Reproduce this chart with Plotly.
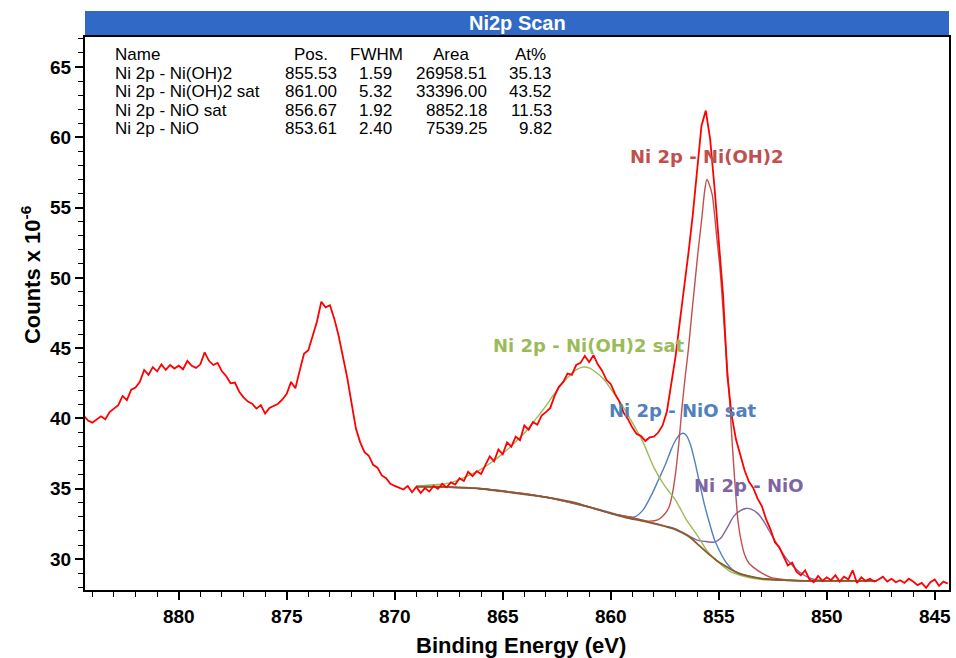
import numpy as np
import plotly.graph_objects as go

# ---- Fit table ----
peak_names = ["Ni 2p - Ni(OH)2", "Ni 2p - Ni(OH)2 sat", "Ni 2p - NiO sat", "Ni 2p - NiO"]
peak_pos = [855.53, 861.00, 856.67, 853.61]
peak_fwhm = [1.59, 5.32, 1.92, 2.40]
peak_area = [26958.51, 33396.00, 8852.18, 7539.25]
peak_at = [35.13, 43.52, 11.53, 9.82]
peak_colors = ["#C0504D", "#9BBB59", "#4F81BD", "#8064A2"]

# ---- Measured spectrum (counts x 1e-6), 0.2 eV steps from 884.4 eV down to 844.4 eV ----
counts = [
    40.2, 39.85, 39.7, 39.95, 40.15, 39.95, 40.45, 40.7, 40.95, 41.6, 41.3, 42.05,
    42.2, 42.6, 43.45, 43.1, 43.65, 43.35, 43.85, 43.45, 43.8, 43.55, 43.75,
    43.5, 44.1, 43.75, 43.6, 43.85, 44.7, 44.1, 43.8, 43.95, 43.35, 43.0, 42.5,
    42.55, 41.9, 41.5, 41.2, 41.05, 40.7, 40.95, 40.35,
    40.75, 40.9, 41.05, 41.35, 41.75, 42.6, 42.15, 43.4, 44.6, 44.85, 45.9, 46.9,
    48.3, 47.9, 48.05, 47.1, 45.9, 44.5, 42.9, 41.1, 39.3, 38.3, 37.6, 37.35,
    36.7, 36.5, 35.95, 35.75, 35.35, 35.2,
    35.1, 34.95, 35.2, 34.75, 35.15, 34.7, 35.05, 34.8, 35.2, 35.0, 35.35, 35.1,
    35.45, 35.3, 35.75, 35.55, 36.2, 35.9, 36.25, 36.05,
    36.7, 37.3, 36.95, 37.8, 37.45, 38.3, 38.0, 38.7, 38.45, 39.5, 39.2, 39.75,
    39.55, 40.2, 40.45, 40.75, 41.6, 42.25, 42.6, 43.2, 43.1, 43.8, 43.95, 44.45, 44.0,
    44.5, 43.85, 43.4, 42.75, 42.45, 41.75, 41.2, 40.4, 39.95, 39.35, 38.9, 38.75,
    38.4, 38.65, 38.7, 39.0, 39.5, 40.5, 42.3, 44.4,
    46.9, 49.2, 51.8, 54.5, 57.5, 60.8, 61.9, 59.9, 56.5, 52.8, 48.8, 43.0,
    40.2, 38.5, 37.3,
    36.3, 35.5, 35.05, 34.3, 33.75, 32.8, 32.1, 31.2, 30.85, 30.2, 29.55, 29.75,
    29.1, 28.85, 29.2, 28.55, 28.35, 28.8, 28.45, 28.7,
    28.5, 28.85, 28.4, 28.75, 28.55, 29.2, 28.3, 28.7, 28.45, 28.6, 28.4, 28.55,
    28.75, 28.4, 28.6, 28.35, 28.5, 28.3, 28.6, 28.4, 28.15, 28.3, 27.95, 28.35,
    28.55, 28.1, 28.4, 28.25,
]
energy = np.round(884.4 - 0.2 * np.arange(len(counts)), 1)

# ---- Fitted envelopes (component + background) ----
bg_e = [869.0, 868.0, 867.0, 866.0, 865.2, 864.0, 863.0, 862.4, 861.5, 860.9, 860.0, 859.3,
        858.5, 857.8, 857.0, 856.6, 856.25, 855.9, 855.5, 855.1, 854.7, 854.3, 854.0,
        853.5, 853.0, 852.0, 851.0, 849.0, 847.7]
bg_i = [35.15, 35.15, 35.1, 35.0, 34.85, 34.6, 34.4, 34.25, 33.95, 33.65, 33.25, 32.95,
        32.7, 32.45, 32.1, 31.8, 31.45, 30.95, 30.4, 29.9, 29.5, 29.15, 28.95,
        28.75, 28.6, 28.5, 28.45, 28.45, 28.45]

sat_e = [869.0, 868.0, 867.5, 867.0, 866.5, 866.0, 865.5, 865.0, 864.5, 864.0, 863.5, 863.0,
         862.5, 862.0, 861.6, 861.3, 861.0, 860.7, 860.3, 860.0, 859.5, 859.0, 858.5, 858.0,
         857.5, 857.0, 856.5, 856.0, 855.5, 855.0, 854.5, 854.0, 853.5, 853.0, 852.0, 850.0, 847.7]
sat_i = [35.2, 35.3, 35.4, 35.65, 36.0, 36.4, 36.9, 37.5, 38.2, 38.95, 39.9, 40.9,
         42.0, 42.9, 43.45, 43.65, 43.6, 43.3, 42.75, 42.1, 41.0, 39.7, 38.3, 36.5,
         35.2, 34.2, 32.8, 31.7, 30.5, 29.75, 29.15, 28.85, 28.65, 28.55, 28.5, 28.45, 28.45]

nio_sat_e = [869.0, 866.0, 863.0, 861.0, 860.0, 859.3, 858.9, 858.5, 858.1, 857.8, 857.45,
             857.2, 857.0, 856.8, 856.65, 856.5, 856.3, 856.1, 855.9, 855.65, 855.4, 855.2,
             855.0, 854.7, 854.4, 854.1, 853.5, 853.0, 851.0, 847.7]
nio_sat_i = [35.15, 35.0, 34.4, 33.7, 33.3, 33.0, 33.0, 33.5, 34.6, 35.6, 36.8,
             37.8, 38.45, 38.85, 38.95, 38.8, 38.1, 36.9, 35.5, 33.8, 32.4, 31.4,
             30.7, 29.85, 29.3, 29.0, 28.75, 28.6, 28.45, 28.45]

hyd_e = [869.0, 866.0, 863.0, 861.0, 860.0, 859.0, 858.3, 857.8, 857.5, 857.3, 857.15,
         857.0, 856.85, 856.7, 856.55, 856.4, 856.25, 856.1, 855.95, 855.8, 855.65, 855.55,
         855.45, 855.3, 855.2, 855.1, 854.95, 854.85, 854.75, 854.65, 854.5, 854.4, 854.25,
         854.1, 853.95, 853.8, 853.6, 853.3, 853.0, 852.6, 852.0, 851.0, 847.7]
hyd_i = [35.15, 35.0, 34.4, 33.7, 33.25, 32.95, 32.7, 32.8, 33.2, 33.7, 34.6,
         36.1, 38.2, 40.8, 43.0, 45.0, 47.4, 49.7, 52.0, 54.0, 56.2, 57.0,
         56.7, 55.9, 54.6, 53.0, 50.8, 48.8, 46.6, 44.5, 41.4, 38.8, 35.4,
         32.6, 31.2, 30.3, 29.7, 29.3, 29.0, 28.7, 28.55, 28.45, 28.45]

nio_e = [869.0, 866.0, 863.0, 861.0, 860.0, 859.0, 858.0, 857.0, 856.5, 856.0, 855.6,
         855.2, 854.9, 854.6, 854.3, 854.0, 853.75, 853.5, 853.2, 852.9, 852.55, 852.2,
         851.9, 851.5, 851.1, 850.7, 850.0, 847.7]
nio_i = [35.15, 35.0, 34.4, 33.7, 33.25, 32.95, 32.55, 32.15, 31.75, 31.35, 31.25,
         31.2, 31.5, 32.25, 33.05, 33.45, 33.6, 33.55, 33.25, 32.65, 31.7, 30.8,
         30.1, 29.4, 28.9, 28.6, 28.45, 28.45]

W, H = 956, 658
L, R, T, B = 85, 5, 37, 68
PW, PH = W - L - R, H - T - B


def px(x):
    return (x - L) / PW


def py(y):
    return (H - B - y) / PH


LAB = "DejaVu Sans"
ARIAL = "Liberation Sans"

fig = go.Figure()

component_curves = [
    (nio_e, nio_i, peak_colors[3]),
    (nio_sat_e, nio_sat_i, peak_colors[2]),
    (hyd_e, hyd_i, peak_colors[0]),
    (sat_e, sat_i, peak_colors[1]),
]
for xs, ys, col in component_curves:
    fig.add_trace(go.Scatter(x=xs, y=ys, mode="lines",
                             line=dict(color=col, width=1.4, shape="spline", smoothing=0.7),
                             hoverinfo="skip", showlegend=False))

fig.add_trace(go.Scatter(x=bg_e, y=bg_i, mode="lines",
                         line=dict(color="#8B5A2B", width=1.8, shape="spline", smoothing=0.7),
                         hoverinfo="skip", showlegend=False))

fig.add_trace(go.Scatter(x=energy, y=counts, mode="lines",
                         line=dict(color="#FF0000", width=1.8),
                         hoverinfo="skip", showlegend=False))

# Peak labels centred on the fitted positions
label_y = [58.6, 45.2, 40.6, 35.2]
for name, pos, ly, col in zip(peak_names, peak_pos, label_y, peak_colors):
    fig.add_annotation(x=pos, y=ly, xref="x", yref="y", text=name, showarrow=False,
                       font=dict(family=LAB, size=18, color=col, weight="bold"),
                       xanchor="center", yanchor="middle")

# Quantification table
row_y = [55, 73.3, 91.7, 110, 128.3]
hdr = [("Name", 113, "left"), ("Pos.", 312, "center"), ("FWHM", 377, "center"),
       ("Area", 452, "center"), ("At%", 532, "center")]
for text, x, anc in hdr:
    fig.add_annotation(x=px(x), y=py(row_y[0]), xref="paper", yref="paper", text=text,
                       showarrow=False, xanchor=anc, yanchor="middle",
                       font=dict(family=ARIAL, size=17, color="black"))
for i, name in enumerate(peak_names):
    yy = py(row_y[i + 1])
    cells = [
        (name, 113, "left"),
        (f"{peak_pos[i]:.2f}", 340, "right"),
        (f"{peak_fwhm[i]:.2f}", 395, "right"),
        (f"{peak_area[i]:.2f}", 490, "right"),
        (f"{peak_at[i]:.2f}", 555, "right"),
    ]
    for text, x, anc in cells:
        fig.add_annotation(x=px(x), y=yy, xref="paper", yref="paper", text=text,
                           showarrow=False, xanchor=anc, yanchor="middle",
                           font=dict(family=ARIAL, size=17, color="black"))

# Title bar
fig.add_shape(type="rect", xref="paper", yref="paper", x0=0, x1=1,
              y0=py(35), y1=py(11), fillcolor="#3169C6", line=dict(width=0), layer="above")
fig.add_annotation(x=0.5, y=py(23), xref="paper", yref="paper", text="Ni2p Scan",
                   showarrow=False, xanchor="center", yanchor="middle",
                   font=dict(family=ARIAL, size=20, color="white", weight="bold"))

# Axis titles
fig.add_annotation(x=px(522), y=py(645), xref="paper", yref="paper",
                   text="Binding Energy (eV)", showarrow=False,
                   xanchor="center", yanchor="middle",
                   font=dict(family=ARIAL, size=22, color="black", weight="bold"))
fig.add_annotation(x=px(31), y=py(275), xref="paper", yref="paper",
                   text="Counts x 10<sup>-6</sup>", showarrow=False, textangle=-90,
                   xanchor="center", yanchor="middle",
                   font=dict(family=ARIAL, size=22, color="black", weight="bold"))

axis_common = dict(showgrid=False, zeroline=False, showline=True, linecolor="black",
                   linewidth=2, mirror=True, ticks="outside", ticklen=8, tickwidth=1.5,
                   tickcolor="black",
                   tickfont=dict(family=ARIAL, size=19, color="black", weight="bold"))

fig.update_xaxes(range=[884.34, 844.34], tickmode="linear", tick0=845, dtick=5,
                 minor=dict(ticks="outside", dtick=1, ticklen=5, tickwidth=1.2, tickcolor="black"),
                 **axis_common)
fig.update_yaxes(range=[27.8, 67.13], tickmode="linear", tick0=30, dtick=5,
                 minor=dict(ticks="outside", dtick=1, ticklen=5, tickwidth=1.2, tickcolor="black"),
                 **axis_common)

fig.update_layout(width=W, height=H, autosize=False,
                  margin=dict(l=L, r=R, t=T, b=B),
                  paper_bgcolor="white", plot_bgcolor="white", showlegend=False)

fig.write_html("out.html")
